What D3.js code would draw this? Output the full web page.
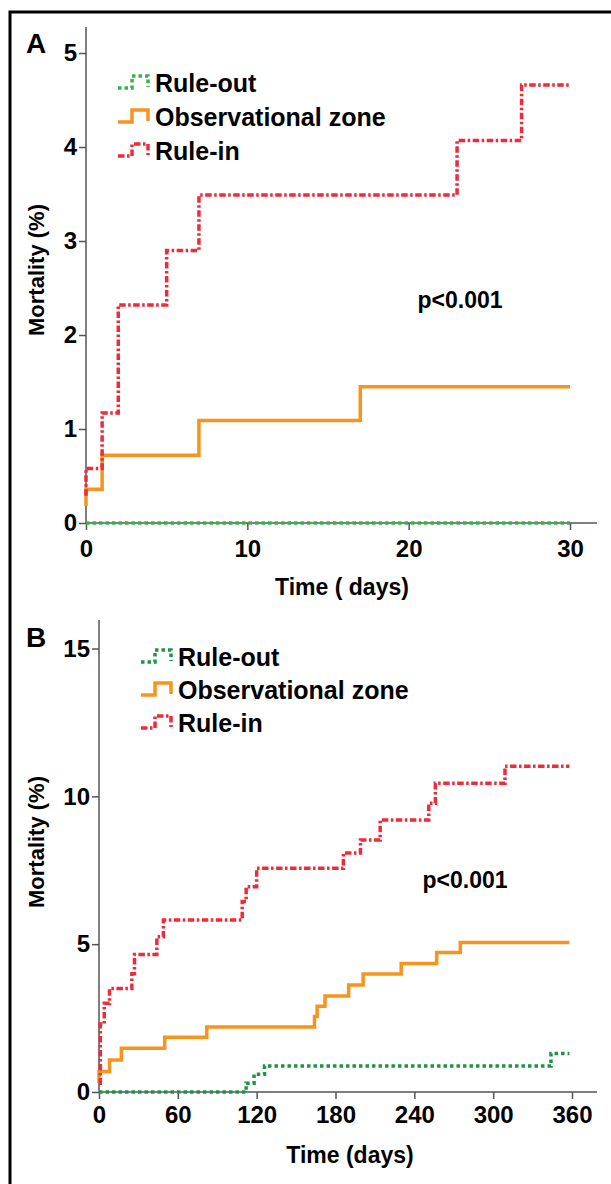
<!DOCTYPE html>
<html>
<head>
<meta charset="utf-8">
<script src="https://cdn.jsdelivr.net/npm/d3@7"></script>
<style>
  body { margin: 0; background: #fff; }
  svg { display: block; }
  text { font-family: "Liberation Sans", Arial, sans-serif; font-weight: bold; fill: #000; }
</style>
</head>
<body>
<script>
/* ------------------------------ data ------------------------------ */
// panel A: 30 days
const aTicksX = [0, 10, 20, 30];
const aTicksY = [0, 1, 2, 3, 4, 5];
const aOutT = [0, 30];
const aOutV = [0, 0];
const aObsT = [0, 0, 1, 7, 17, 30];
const aObsV = [0.18, 0.36, 0.72, 1.09, 1.45, 1.45];
const aInT = [0, 0, 1, 2, 5, 7, 23, 27, 30];
const aInV = [0.29, 0.58, 1.17, 2.32, 2.9, 3.49, 4.07, 4.66, 4.66];

// panel B: 360 days
const bTicksX = [0, 60, 120, 180, 240, 300, 360];
const bTicksY = [0, 5, 10, 15];
const bOutT = [0, 112, 118, 126, 344, 358];
const bOutV = [0, 0.3, 0.6, 0.88, 1.3, 1.3];
const bObsT = [0, 0, 8, 17, 50, 82, 164, 166, 172, 190, 201, 230, 257, 275, 358];
const bObsV = [0.3, 0.69, 1.08, 1.48, 1.85, 2.2, 2.55, 2.9, 3.25, 3.62, 3.99, 4.35, 4.72, 5.06, 5.06];
const bInT = [0, 1, 4, 8, 25, 27, 44, 49, 109, 112, 120, 186, 199, 214, 251, 256, 309, 358];
const bInV = [0.3, 2.3, 3.0, 3.5, 4.0, 4.65, 5.25, 5.82, 6.44, 6.94, 7.57, 8.08, 8.52, 9.2, 9.77, 10.44, 11.02, 11.02];

const groups = ["Rule-out", "Observational zone", "Rule-in"];
const pText = "p<0.001";

/* ------------------------------ styles ---------------------------- */
const red = "#ee2b3b", orange = "#f7941d";
const dashes = { out: "3.5,3", obs: null, in: "6.5,2.5,2.5,2.5" };

const svg = d3.select("body").append("svg")
    .attr("width", 611)
    .attr("height", 1184);

// outer frame (runs off the page on the right and bottom)
svg.append("rect")
    .attr("x", 10).attr("y", 12)
    .attr("width", 700).attr("height", 1300)
    .attr("fill", "none").attr("stroke", "#000").attr("stroke-width", 3);

function panel(cfg) {
    const x = d3.scaleLinear().domain(cfg.xDomain).range(cfg.xRange);
    const y = d3.scaleLinear().domain(cfg.yDomain).range(cfg.yRange);
    const g = svg.append("g");

    // axes
    const xAxis = g.append("g")
        .attr("transform", `translate(0,${y(0)})`)
        .call(d3.axisBottom(x).tickValues(cfg.ticksX).tickFormat(d3.format("d"))
            .tickSize(7).tickPadding(cfg.xPad).tickSizeOuter(0));
    const yAxis = g.append("g")
        .attr("transform", `translate(${x(0)},0)`)
        .call(d3.axisLeft(y).tickValues(cfg.ticksY).tickFormat(d3.format("d"))
            .tickSize(7).tickPadding(2).tickSizeOuter(0));
    [xAxis, yAxis].forEach(a => {
        a.select(".domain").remove();
        a.selectAll("line").attr("stroke", "#555").attr("stroke-width", 1.5);
        a.selectAll("text").style("font-size", "24px").style("font-family", "Liberation Sans, Arial, sans-serif")
            .style("font-weight", "bold").attr("fill", "#000");
    });
    g.append("line").attr("x1", x(0)).attr("x2", cfg.xEnd).attr("y1", y(0)).attr("y2", y(0))
        .attr("stroke", "#555").attr("stroke-width", 1.5);
    g.append("line").attr("x1", x(0)).attr("x2", x(0)).attr("y1", y(0) + 1).attr("y2", cfg.yTop)
        .attr("stroke", "#555").attr("stroke-width", 1.5);

    // curves
    const line = d3.line().x(d => x(d[0])).y(d => y(d[1])).curve(d3.curveStepAfter);
    const series = [
        { t: cfg.outT, v: cfg.outV, c: cfg.green, d: dashes.out },
        { t: cfg.obsT, v: cfg.obsV, c: orange, d: dashes.obs },
        { t: cfg.inT, v: cfg.inV, c: red, d: dashes.in }
    ];
    series.forEach(s => {
        g.append("path")
            .datum(d3.zip(s.t, s.v))
            .attr("d", line)
            .attr("fill", "none")
            .attr("stroke", s.c)
            .attr("stroke-width", 3.5)
            .attr("stroke-dasharray", s.d);
    });

    // legend
    const sym = [[0, 5], [14, 5], [14, -7], [30, -7], [30, 4]];
    series.forEach((s, i) => {
        const ly = cfg.legY + i * cfg.legStep;
        g.append("path")
            .attr("d", d3.line()(sym.map(p => [cfg.legX + p[0], ly + p[1]])))
            .attr("fill", "none").attr("stroke", s.c).attr("stroke-width", 3.5)
            .attr("stroke-dasharray", s.d);
        g.append("text")
            .attr("x", cfg.legX + 37).attr("y", ly + 9)
            .style("font-size", "25px")
            .text(groups[i]);
    });

    // labels
    g.append("text").attr("x", 26).attr("y", cfg.letterY).style("font-size", "28px").text(cfg.letter);
    g.append("text")
        .attr("transform", `translate(44,${cfg.yTitleY}) rotate(-90)`)
        .attr("text-anchor", "middle").style("font-size", "22px")
        .text("Mortality (%)");
    g.append("text").attr("x", cfg.xTitleX).attr("y", cfg.xTitleY)
        .attr("text-anchor", "middle").style("font-size", "23px")
        .text(cfg.xTitle);
    g.append("text").attr("x", cfg.pX).attr("y", cfg.pY)
        .attr("text-anchor", "middle").style("font-size", "23px")
        .text(pText);
}

panel({
    xDomain: [0, 30], xRange: [86, 570], yDomain: [0, 5], yRange: [523, 53],
    ticksX: aTicksX, ticksY: aTicksY, xPad: 10, xEnd: 597, yTop: 27,
    outT: aOutT, outV: aOutV, obsT: aObsT, obsV: aObsV, inT: aInT, inV: aInV,
    green: "#33b54a",
    legX: 118, legY: 83, legStep: 34,
    letter: "A", letterY: 53, yTitleY: 270,
    xTitle: "Time ( days)", xTitleX: 342, xTitleY: 595,
    pX: 460, pY: 308
});

panel({
    xDomain: [0, 360], xRange: [99, 572], yDomain: [0, 15], yRange: [1092, 648.5],
    ticksX: bTicksX, ticksY: bTicksY, xPad: 7, xEnd: 597, yTop: 620,
    outT: bOutT, outV: bOutV, obsT: bObsT, obsV: bObsV, inT: bInT, inV: bInV,
    green: "#1e9444",
    legX: 141, legY: 657, legStep: 33,
    letter: "B", letterY: 647, yTitleY: 842,
    xTitle: "Time (days)", xTitleX: 350, xTitleY: 1163,
    pX: 465, pY: 888
});
</script>
</body>
</html>
